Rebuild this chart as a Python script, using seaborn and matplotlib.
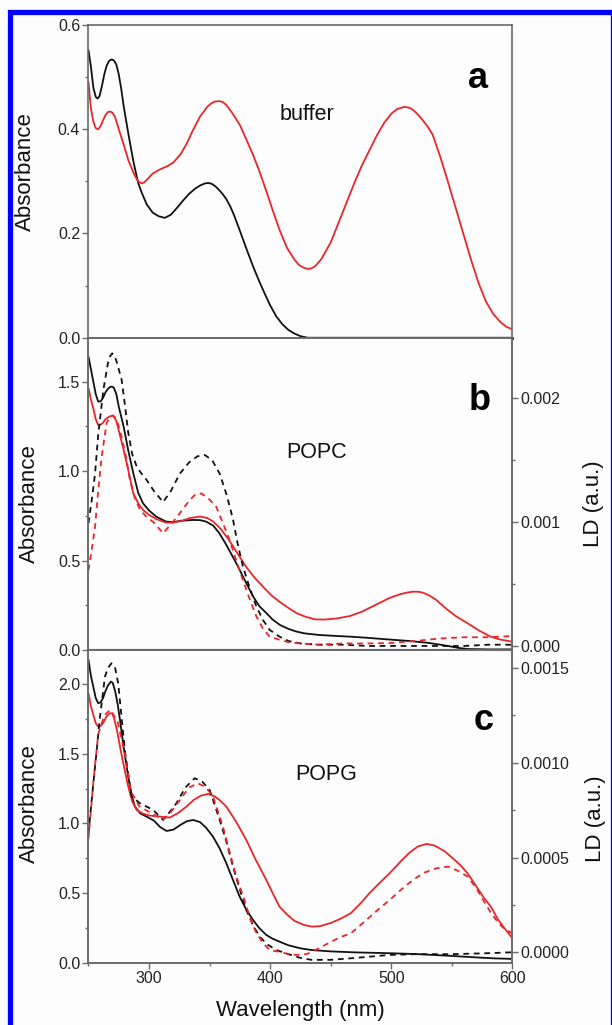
import numpy as np
import pandas as pd
import matplotlib
matplotlib.use("Agg")
import matplotlib.pyplot as plt
import seaborn as sns
from matplotlib.ticker import MultipleLocator, FormatStrFormatter
from matplotlib.patches import Rectangle

# ---------------- data ----------------
# Panel a (buffer) absorbance
wl_a_black = [250, 252, 254, 256, 257.5, 259, 261, 263, 265, 267, 269, 271, 273, 275, 277, 279, 283, 287, 291, 294, 298, 303, 308, 313, 318, 323, 328, 333, 338, 342, 346, 349, 352, 355, 358, 361, 364, 367, 370, 375, 380, 386, 391, 395, 400, 405, 410, 415, 420, 425, 431, 500, 600]
abs_a_black = [0.552, 0.52, 0.48, 0.462, 0.459, 0.463, 0.482, 0.505, 0.522, 0.531, 0.534, 0.532, 0.524, 0.505, 0.478, 0.445, 0.39, 0.339, 0.297, 0.278, 0.256, 0.240, 0.233, 0.230, 0.236, 0.249, 0.263, 0.276, 0.286, 0.292, 0.296, 0.297, 0.295, 0.290, 0.283, 0.275, 0.265, 0.252, 0.236, 0.205, 0.173, 0.136, 0.108, 0.087, 0.062, 0.041, 0.026, 0.015, 0.008, 0.003, 0.0, 0.0, 0.0]

wl_a_red = [250, 252, 254, 256, 258, 260, 262, 264, 266, 268, 270, 272, 275, 279, 283, 288, 291, 293.8, 296, 299, 303, 309, 315, 320, 326, 331, 336, 342, 348, 351, 354, 358, 361, 364, 369, 375, 380, 386, 391, 397, 402, 408, 414, 420, 424, 428, 431, 434, 437, 442, 450, 457, 464, 470, 476, 482, 488, 494, 500, 505, 511, 515, 518, 522, 525, 530, 534, 540, 546, 553, 560, 566, 572, 578, 584, 590, 595, 600]
abs_a_red = [0.49, 0.44, 0.415, 0.402, 0.400, 0.406, 0.417, 0.427, 0.433, 0.434, 0.431, 0.423, 0.400, 0.371, 0.34, 0.312, 0.300, 0.296, 0.298, 0.305, 0.315, 0.323, 0.329, 0.336, 0.352, 0.372, 0.397, 0.424, 0.443, 0.449, 0.453, 0.454, 0.452, 0.446, 0.430, 0.408, 0.382, 0.350, 0.320, 0.280, 0.245, 0.205, 0.172, 0.150, 0.139, 0.134, 0.132, 0.133, 0.137, 0.150, 0.183, 0.224, 0.265, 0.300, 0.332, 0.360, 0.388, 0.412, 0.430, 0.439, 0.443, 0.441, 0.437, 0.428, 0.420, 0.405, 0.390, 0.350, 0.305, 0.250, 0.195, 0.148, 0.105, 0.070, 0.046, 0.030, 0.021, 0.016]

# Panel b (POPC) absorbance
wl_b_black = [250, 252, 254, 256, 258, 260, 262, 264, 266, 268, 269.5, 271, 273, 275, 279, 283, 287, 291, 295, 300, 306, 314, 320, 326, 336, 342, 347, 353, 358, 364, 372, 379, 386, 391, 397, 402, 408, 415, 421, 428, 440, 455, 467, 480, 495, 505, 515, 530, 540, 547, 555, 563, 580, 600]
abs_b_black = [1.640, 1.57, 1.50, 1.43, 1.389, 1.39, 1.41, 1.44, 1.46, 1.471, 1.473, 1.465, 1.43, 1.36, 1.249, 1.11, 0.988, 0.88, 0.820, 0.780, 0.745, 0.718, 0.715, 0.722, 0.727, 0.726, 0.718, 0.695, 0.653, 0.585, 0.485, 0.390, 0.298, 0.245, 0.205, 0.170, 0.140, 0.118, 0.104, 0.093, 0.084, 0.078, 0.074, 0.068, 0.060, 0.055, 0.050, 0.040, 0.030, 0.022, 0.012, 0.005, 0.003, 0.003]

wl_b_red = [250, 252, 254, 256, 258, 260, 262, 264, 266, 268, 269.5, 271, 273, 276, 279, 283, 287, 291, 295, 300, 306, 314, 320, 327, 334, 342, 348, 353, 359, 366, 373, 380, 387, 394, 401, 408, 415, 422, 429, 437, 445, 455, 466, 476, 487, 498, 503, 508, 513, 518, 523, 527, 532, 537, 545, 553, 563, 572, 582, 590, 600]
abs_b_red = [1.464, 1.40, 1.35, 1.29, 1.258, 1.26, 1.27, 1.29, 1.30, 1.307, 1.309, 1.305, 1.28, 1.20, 1.119, 1.00, 0.876, 0.820, 0.783, 0.755, 0.732, 0.712, 0.712, 0.722, 0.738, 0.746, 0.738, 0.718, 0.678, 0.615, 0.540, 0.466, 0.405, 0.354, 0.305, 0.268, 0.235, 0.205, 0.186, 0.171, 0.170, 0.176, 0.190, 0.215, 0.252, 0.289, 0.302, 0.313, 0.321, 0.326, 0.325, 0.318, 0.302, 0.280, 0.232, 0.190, 0.149, 0.110, 0.074, 0.058, 0.046]

# Panel b (POPC) linear dichroism
wl_b_ld_black = [250, 253, 255.4, 258, 262.2, 266, 268, 269.6, 271, 273, 277.3, 280, 282.8, 286, 289.7, 293, 297.9, 304, 311.6, 318, 325.4, 333, 340, 346, 352, 358.3, 364, 369.3, 373, 377.5, 383, 388.5, 394, 399.5, 407.7, 415, 425, 440, 460, 480, 500, 520, 540, 560, 580, 600]
ld_b_black = [0.00099, 0.00120, 0.00139, 0.00170, 0.00206, 0.00228, 0.00234, 0.00236, 0.00235, 0.00230, 0.00215, 0.00195, 0.00172, 0.00155, 0.00145, 0.00140, 0.00134, 0.00125, 0.00116, 0.00125, 0.00139, 0.00148, 0.00153, 0.00154, 0.00150, 0.00139, 0.00122, 0.00102, 0.00083, 0.00064, 0.00047, 0.00032, 0.00021, 0.00013, 0.000075, 0.00004, 0.00002, 0.00001, 0.00001, 0.0, 0.0, 0.0, 0.0, 0.0, 0.00001, 0.00001]

wl_b_ld_red = [250, 253, 255.4, 258, 260.9, 265, 268, 270.4, 272, 274, 277.3, 281, 284.2, 288, 292.4, 298, 303.4, 311.6, 318, 325.4, 333, 338, 343.3, 349, 355.6, 361, 366.6, 372, 377.5, 383, 388.5, 394, 399.5, 407.7, 415, 425, 440, 460, 480, 500, 520, 540, 560, 580, 600]
ld_b_red = [0.00061, 0.00080, 0.00096, 0.00125, 0.00153, 0.00180, 0.00185, 0.00186, 0.00184, 0.00180, 0.00169, 0.00152, 0.00134, 0.00120, 0.00110, 0.00104, 0.00100, 0.00091, 0.00098, 0.00107, 0.00117, 0.00122, 0.00123, 0.00119, 0.00112, 0.00099, 0.00085, 0.00069, 0.00053, 0.00038, 0.00024, 0.00014, 0.000075, 0.00005, 0.00003, 0.00002, 0.00001, 0.00002, 0.00002, 0.000024, 0.00004, 0.00006, 0.00007, 0.00007, 0.00008]

# Panel c (POPG) absorbance
wl_c_black = [250, 252, 254, 256, 258, 260, 262, 264, 266, 268.5, 270, 272, 274, 276, 279, 282.8, 286, 288.3, 293, 298, 304, 309, 314.4, 320, 326, 331, 336.3, 342, 347, 352.8, 358, 363.8, 369, 374.8, 380, 385.8, 391, 396.8, 402, 407.7, 415, 425, 434, 450, 470, 498.6, 520, 547, 570, 585, 600]
abs_c_black = [2.175, 2.06, 1.98, 1.90, 1.864, 1.87, 1.90, 1.95, 1.99, 2.019, 2.01, 1.95, 1.86, 1.744, 1.55, 1.336, 1.19, 1.121, 1.07, 1.049, 1.02, 0.975, 0.946, 0.955, 0.99, 1.015, 1.025, 1.01, 0.97, 0.905, 0.825, 0.714, 0.60, 0.474, 0.385, 0.307, 0.248, 0.199, 0.172, 0.151, 0.125, 0.103, 0.091, 0.081, 0.074, 0.068, 0.062, 0.050, 0.038, 0.031, 0.027]

wl_c_red = [250, 252, 254, 256, 258, 260, 262, 265, 267.7, 269.5, 271, 273.5, 276, 279, 282.8, 286, 289.7, 295, 300.7, 308, 317.1, 324, 330.9, 337, 343, 348.7, 354, 358, 363.8, 372, 380.3, 388, 396.8, 402, 407.7, 414, 420, 427.9, 434.3, 441, 450, 458, 466.5, 475, 482, 490, 498.6, 508, 515, 522, 529.2, 536, 544, 552, 557, 562.9, 570, 576, 582.2, 588, 594, 600]
abs_c_red = [1.935, 1.84, 1.78, 1.72, 1.695, 1.70, 1.72, 1.77, 1.792, 1.79, 1.76, 1.67, 1.552, 1.42, 1.264, 1.16, 1.097, 1.07, 1.056, 1.05, 1.042, 1.075, 1.121, 1.17, 1.20, 1.212, 1.195, 1.17, 1.121, 1.01, 0.881, 0.74, 0.594, 0.50, 0.402, 0.345, 0.30, 0.271, 0.259, 0.262, 0.285, 0.315, 0.355, 0.43, 0.50, 0.57, 0.642, 0.73, 0.79, 0.835, 0.853, 0.84, 0.80, 0.74, 0.70, 0.642, 0.55, 0.47, 0.402, 0.31, 0.24, 0.175]

# Panel c (POPG) linear dichroism
wl_c_ld_black = [250, 252, 254, 257, 259.5, 263.6, 266, 269, 272, 274.5, 277, 280, 283, 285.6, 292.4, 303.4, 311.6, 317, 322.6, 330, 337.7, 344, 350, 358.3, 364, 369.3, 375, 380.3, 386, 391.3, 398, 405, 415, 425, 434, 450, 470, 498.6, 520, 550, 580, 600]
ld_c_black = [0.000628, 0.00076, 0.000892, 0.00108, 0.001244, 0.001455, 0.00150, 0.001526, 0.00150, 0.00142, 0.00126, 0.001068, 0.00093, 0.000822, 0.000787, 0.000751, 0.000699, 0.00074, 0.000787, 0.00087, 0.000919, 0.00090, 0.000857, 0.000699, 0.00058, 0.000452, 0.00033, 0.000223, 0.00014, 0.000082, 0.00004, 0.000012, -0.00001, -0.00003, -0.00004, -0.00004, -0.00003, -0.000014, -0.00001, -0.00001, -0.000005, 0.0]

wl_c_ld_red = [250, 252, 254, 258, 263, 268, 274, 280, 285, 292, 303, 311.6, 318, 325, 333, 340.5, 347, 352.8, 361, 366, 372, 378, 383, 388, 394, 400, 407.7, 415, 421.5, 430, 440, 450.4, 458, 466.5, 474, 482.5, 490, 498.6, 508, 517.9, 527, 537.2, 546.9, 555, 562.9, 570, 575.8, 582, 588.6, 594, 600]
ld_c_red = [0.0006, 0.00075, 0.0009, 0.00115, 0.00125, 0.00128, 0.00122, 0.00105, 0.00085, 0.00077, 0.00073, 0.0007, 0.00074, 0.0008, 0.00087, 0.000892, 0.00087, 0.000822, 0.000663, 0.00054, 0.0004, 0.00029, 0.000188, 0.00011, 0.000048, 0.00001, 0.000003, -0.00001, -0.000014, -0.00001, 0.00002, 0.000056, 0.00008, 0.0001, 0.00014, 0.000188, 0.00023, 0.000276, 0.00033, 0.000382, 0.00042, 0.000443, 0.000452, 0.00043, 0.0004, 0.00034, 0.000276, 0.00021, 0.000153, 0.00012, 0.0001]

panel_letters = ["a", "b", "c"]
panel_names = ["buffer", "POPC", "POPG"]
x_ticks = [300, 400, 500, 600]

# ---------------- style ----------------
sns.set_theme(style="ticks")
plt.rcParams["font.family"] = ["Liberation Sans", "DejaVu Sans"]
SPINE = "#6a6a6a"
RED = "#e8262b"
BLACK = "#111111"
LW = 1.3
DASH = (0, (3.2, 2.6))
TICK_FS = 11.5
LABEL_FS = 16

fig = plt.figure(figsize=(6.12, 10.25), dpi=100, facecolor="#fdfdfd")
L, W = 0.1446, 0.6928
ax_a = fig.add_axes([L, 0.6705, W, 0.3051])
ax_b = fig.add_axes([L, 0.3659, W, 0.3046])
ax_c = fig.add_axes([L, 0.0608, W, 0.3051])
for ax in (ax_a, ax_b, ax_c):
    ax.set_facecolor("#fdfdfd")


def draw(ax, x, y, color, dashed=False):
    df = pd.DataFrame({"x": x, "y": y})
    sns.lineplot(data=df, x="x", y="y", ax=ax, color=color, lw=LW,
                 estimator=None, sort=False, errorbar=None,
                 linestyle=DASH if dashed else "-")


def style_axis(ax, bottom_lw=None):
    for s in ax.spines.values():
        s.set_color(SPINE)
        s.set_linewidth(1.2)
    if bottom_lw is not None:
        ax.spines["bottom"].set_color("#111111")
        ax.spines["bottom"].set_linewidth(bottom_lw)
    ax.tick_params(which="major", direction="out", length=4, width=1,
                   color=SPINE, labelsize=TICK_FS, labelcolor="#222222", pad=2)
    ax.tick_params(which="minor", direction="out", length=2.5, width=1,
                   color=SPINE)
    ax.set_xlim(250, 600)
    ax.set_xlabel("")
    ax.set_ylabel("Absorbance", fontsize=LABEL_FS, color="#111111")


# Panel a
draw(ax_a, wl_a_black, abs_a_black, BLACK)
draw(ax_a, wl_a_red, abs_a_red, RED)
ax_a.set_ylim(0, 0.6)
ax_a.yaxis.set_major_locator(MultipleLocator(0.2))
ax_a.yaxis.set_minor_locator(MultipleLocator(0.1))
ax_a.yaxis.set_major_formatter(FormatStrFormatter("%.1f"))
style_axis(ax_a, bottom_lw=2.0)
ax_a.tick_params(axis="x", which="both", bottom=False, labelbottom=False)

# Panel b
ax_b2 = ax_b.twinx()
draw(ax_b2, wl_b_ld_black, ld_b_black, BLACK, dashed=True)
draw(ax_b2, wl_b_ld_red, ld_b_red, RED, dashed=True)
draw(ax_b, wl_b_black, abs_b_black, BLACK)
draw(ax_b, wl_b_red, abs_b_red, RED)
ax_b.set_ylim(0, 1.746)
ax_b.yaxis.set_major_locator(MultipleLocator(0.5))
ax_b.yaxis.set_minor_locator(MultipleLocator(0.25))
ax_b.yaxis.set_major_formatter(FormatStrFormatter("%.1f"))
style_axis(ax_b, bottom_lw=1.5)
ax_b.tick_params(axis="x", which="both", bottom=False, labelbottom=False)
ax_b2.set_ylim(-0.0000323, 0.002486)
ax_b2.yaxis.set_major_locator(MultipleLocator(0.001))
ax_b2.yaxis.set_minor_locator(MultipleLocator(0.0005))
ax_b2.yaxis.set_major_formatter(FormatStrFormatter("%.3f"))
style_axis(ax_b2)
ax_b2.spines["bottom"].set_visible(False)
ax_b2.set_ylabel("LD (a.u.)", fontsize=LABEL_FS, color="#111111")
ax_b2.tick_params(axis="x", which="both", bottom=False, labelbottom=False)

# Panel c
ax_c2 = ax_c.twinx()
draw(ax_c2, wl_c_ld_black, ld_c_black, BLACK, dashed=True)
draw(ax_c2, wl_c_ld_red, ld_c_red, RED, dashed=True)
draw(ax_c, wl_c_black, abs_c_black, BLACK)
draw(ax_c, wl_c_red, abs_c_red, RED)
ax_c.set_ylim(0, 2.246)
ax_c.yaxis.set_major_locator(MultipleLocator(0.5))
ax_c.yaxis.set_minor_locator(MultipleLocator(0.25))
ax_c.yaxis.set_major_formatter(FormatStrFormatter("%.1f"))
style_axis(ax_c)
ax_c.set_xticks(x_ticks)
ax_c.xaxis.set_minor_locator(MultipleLocator(50))
ax_c.set_xlabel("Wavelength (nm)", fontsize=LABEL_FS, color="#111111", labelpad=10)
ax_c2.set_ylim(-0.000055, 0.001596)
ax_c2.yaxis.set_major_locator(MultipleLocator(0.0005))
ax_c2.yaxis.set_minor_locator(MultipleLocator(0.00025))
ax_c2.yaxis.set_major_formatter(FormatStrFormatter("%.4f"))
style_axis(ax_c2)
ax_c2.set_ylabel("LD (a.u.)", fontsize=LABEL_FS, color="#111111")
ax_c2.tick_params(axis="x", which="both", bottom=False, labelbottom=False)
ax_c.set_xlim(250, 600)

# Panel letters and names
letter_pos = [(0.919, 0.7985), (0.923, 0.7685), (0.933, 0.744)]
name_pos = [(430, 0.429), (438.6, 1.107), (446.5, 1.348)]
for ax, letter, lp, name, npos in zip((ax_a, ax_b, ax_c), panel_letters,
                                      letter_pos, panel_names, name_pos):
    ax.text(lp[0], lp[1], letter, transform=ax.transAxes, fontsize=26,
            fontweight="bold", ha="center", va="baseline", color="black")
    ax.text(npos[0], npos[1], name, fontsize=15.5, ha="center", va="center",
            color="#111111")

# label placement (left labels: coordinate is right edge; right labels: left edge)
ax_a.yaxis.set_label_coords(-0.125, 0.53)
ax_b.yaxis.set_label_coords(-0.114, 0.47)
ax_c.yaxis.set_label_coords(-0.114, 0.51)
ax_b2.yaxis.set_label_coords(1.166, 0.47)
ax_c2.yaxis.set_label_coords(1.172, 0.46)

# Blue frame
fig.patches.append(Rectangle((9.5 / 612, -0.01), (612.5 - 9.5) / 612,
                             1.01 - 11.5 / 1025,
                             transform=fig.transFigure, fill=False,
                             edgecolor="#0000ff", linewidth=3.8,
                             clip_on=False, zorder=10))

fig.savefig("out.png", dpi=100, facecolor=fig.get_facecolor())
